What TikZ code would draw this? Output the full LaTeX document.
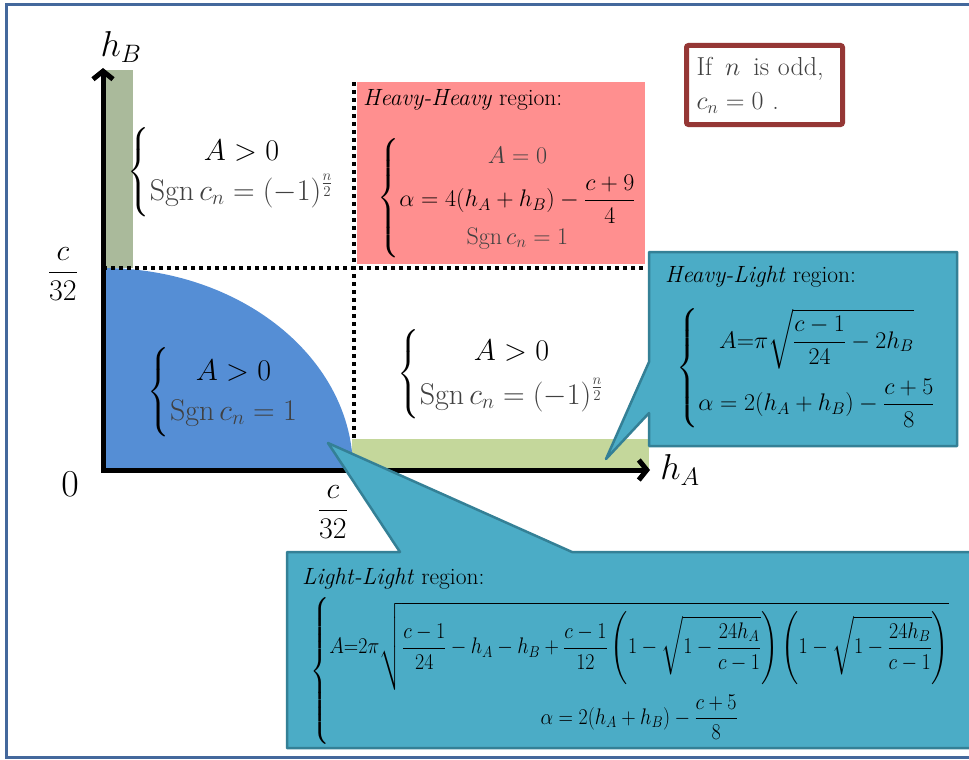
\RequirePackage{fix-cm}
\documentclass[tikz,border=0pt]{standalone}
\usepackage{amsmath}
\usepackage{graphicx}
\usetikzlibrary{arrows.meta}
\definecolor{frameblue}{RGB}{68,104,156}
\definecolor{pinkreg}{RGB}{255,143,143}
\definecolor{bluereg}{RGB}{85,142,213}
\definecolor{stripA}{RGB}{170,186,155}
\definecolor{stripB}{RGB}{196,215,155}
\definecolor{callfill}{RGB}{75,172,198}
\definecolor{callline}{RGB}{52,128,150}
\definecolor{redbox}{RGB}{149,55,53}
\definecolor{txtgray}{RGB}{64,64,64}
\newcommand{\gr}[1]{{\color{txtgray}#1}}
\tikzset{
  dotline/.style={line width=4pt, dash pattern=on 4pt off 4pt},
  axisline/.style={line width=5pt,
    arrows={Straight Barb[length=8pt,width=20pt]-Straight Barb[length=8pt,width=20pt]}},
  callout/.style={fill=callfill, draw=callline, line width=2.5pt, line join=round},
  lbl/.style={inner sep=0pt},
  bigf/.style={inner sep=0pt, font=\fontsize{30}{40}\selectfont},
  head/.style={inner sep=0pt, anchor=base west, font=\fontsize{23.5}{28}\selectfont},
}
\begin{document}
\begin{tikzpicture}[x=1pt,y=-1pt]
\useasboundingbox (0,0) rectangle (969,760);
\fill[white] (0,0) rectangle (969,760);
\draw[frameblue, line width=3pt] (6,4.5) rectangle (980,757);
% regions
\fill[stripA] (106,70) rectangle (133,268);
\fill[stripB] (352,439) rectangle (649,468);
\fill[pinkreg] (357,82) rectangle (645,264);
\fill[bluereg] (103,470) -- (103,268) arc[start angle=-90,end angle=0,x radius=250,y radius=202] -- cycle;
% dotted separators
\draw[dotline] (103,268) -- (646,268);
\draw[dotline] (354,82) -- (354,440);
% axes
\coordinate (ytip) at (103,68);
\coordinate (orig) at (103,470);
\coordinate (xtip) at (650,470);
\draw[axisline] (ytip) -- (orig) -- (xtip);
% axis labels
\node[lbl, font=\fontsize{36}{40}\selectfont] (hB) at (121,47) {$h_B$};
\node[lbl, font=\fontsize{36}{40}\selectfont] (hA) at (680,470) {$h_A$};
\node[lbl, font=\fontsize{38}{40}\selectfont] (zero) at (70,484) {$0$};
\node[lbl, font=\fontsize{30}{36}\selectfont] (cy) at (63,274) {$\dfrac{c}{32}$};
\node[lbl, font=\fontsize{30}{36}\selectfont] (cx) at (333,512) {$\dfrac{c}{32}$};
% region formulas
\node[bigf] (f1) at (231,172) {$\left\{\begin{array}{@{}c@{}} A>0\\ \gr{\operatorname{Sgn} c_n=(-1)^{\frac{n}{2}}}\end{array}\right.$};
\node[bigf] (f3) at (223,392) {$\left\{\begin{array}{@{}c@{}} A>0\\ \gr{\operatorname{Sgn} c_n=1}\end{array}\right.$};
\node[bigf] (f4) at (501,374) {$\left\{\begin{array}{@{}c@{}} A>0\\[4pt] \gr{\operatorname{Sgn} c_n=(-1)^{\frac{n}{2}}}\end{array}\right.$};
% heavy-heavy
\node[head] (hhT) at (363,106) {\textit{Heavy-Heavy} region:};
\node[inner sep=0pt, font=\fontsize{24}{30}\selectfont] (f2) at (507,198) {$\left\{\begin{array}{@{}c@{}} \gr{A=0}\\[2pt] \alpha=4(h_A+h_B)-\dfrac{c+9}{4}\\[2pt] \gr{\operatorname{Sgn} c_n=1}\end{array}\right.$};
% callouts
\filldraw[callout] (649,252) -- (957,252) -- (957,446) -- (649,446) -- (649,413) -- (606,459) -- (649,362) -- cycle;
\filldraw[callout] (287,552) -- (400,552) -- (328,443) -- (572,552) -- (985,552) -- (985,748) -- (287,748) -- cycle;
% heavy-light
\node[head] (hlT) at (665,282) {\textit{Heavy-Light} region:};
\node[inner sep=0pt, font=\fontsize{24}{30}\selectfont] (f5) at (806,368) {$\left\{\begin{array}{@{}c@{}} A{=}\pi\sqrt{\dfrac{c-1}{24}-2h_B}\\[22pt] \alpha=2(h_A+h_B)-\dfrac{c+5}{8}\end{array}\right.$};
% light-light
\node[head] (llT) at (302,584) {\textit{Light-Light} region:};
\node[inner sep=0pt, font=\fontsize{23}{28}\selectfont] (f6) at (630,671) {\scalebox{0.87}[0.98]{$\left\{\begin{array}{@{}c@{}} A{=}2\pi\sqrt{\dfrac{c-1}{24}-h_A-h_B+\dfrac{c-1}{12}\left(1-\sqrt{1-\dfrac{24h_A}{c-1}}\right)\left(1-\sqrt{1-\dfrac{24h_B}{c-1}}\right)}\\ \noalign{\vskip 4pt} \alpha=2(h_A+h_B)-\dfrac{c+5}{8}\end{array}\right.$}};
% odd note
\node[draw=redbox, line width=5pt, rounded corners=2pt, minimum width=156pt, minimum height=79pt,
  text width=136pt, align=left, inner xsep=10pt, font=\fontsize{26}{34}\selectfont, text=txtgray] (odd) at (764.5,85)
  {If \,$n$\, is odd,\\ $c_n=0$ .};
\end{tikzpicture}
\end{document}
